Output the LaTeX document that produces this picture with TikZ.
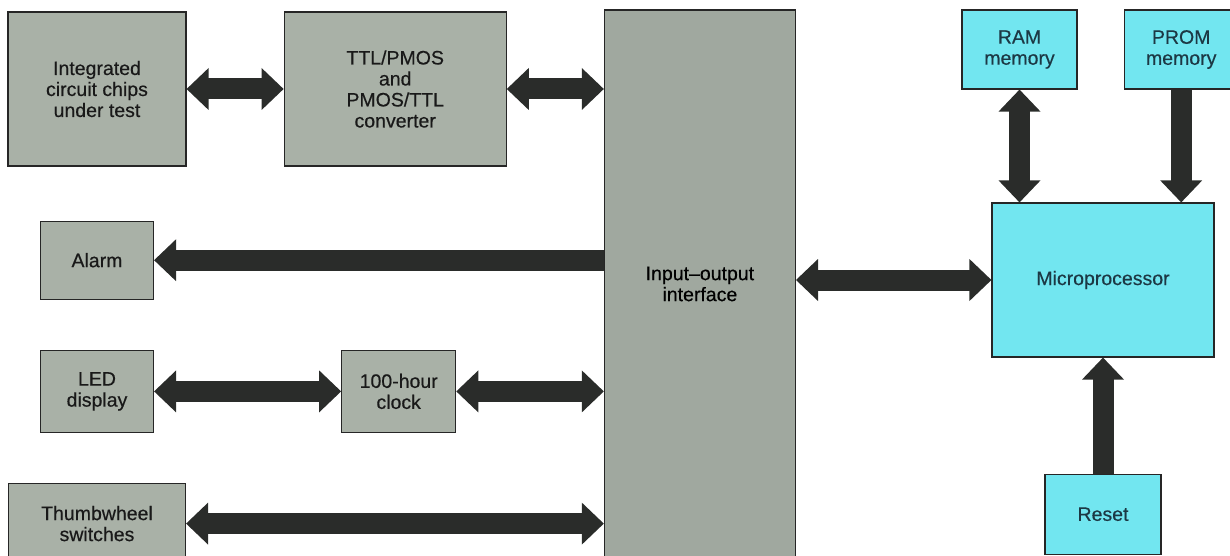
\documentclass[tikz,border=0pt]{standalone}
\usepackage{fontspec}
\setmainfont{Liberation Sans}
\newfontfamily\blockfont{Liberation Sans}[FakeBold=0.4,Ligatures=TeX]
\usepackage{xcolor}
\usetikzlibrary{arrows.meta,positioning}
\definecolor{boxgrey}{HTML}{A9B1A7}
\definecolor{iogrey}{HTML}{A0A89F}
\definecolor{boxcyan}{HTML}{72E6F0}
\definecolor{buscolor}{HTML}{2A2C2A}
\definecolor{cyantext}{HTML}{1C3844}

\begin{document}
\begin{tikzpicture}[
x=1pt,y=1pt,
block/.style={draw=black!85,line width=1.2pt,align=center,inner sep=0pt,font=\blockfont\fontsize{19.5}{21}\selectfont},
greyblock/.style={block,fill=boxgrey,text=black!90},
memblock/.style={block,fill=boxcyan,text=cyantext},
bustip/.tip={Triangle[length=22pt,width=42pt,line width=0pt]},
bus/.style={line width=21pt,line cap=rect,draw=buscolor,bustip-bustip},
onebus/.style={line width=21pt,line cap=rect,draw=buscolor,-bustip,shorten <=10.5pt}
]
\clip (0,0) rectangle (1230,555);
\node[greyblock,minimum width=178pt,minimum height=154pt] (chips) at (97,466) {Integrated\\circuit chips\\under test};
\node[greyblock,minimum width=222pt,minimum height=154pt,right=97pt of chips] (conv) {TTL/PMOS\\and\\PMOS/TTL\\converter};
\node[block,fill=iogrey,minimum width=191pt,minimum height=548pt,right=97pt of conv.north east,anchor=north west,yshift=2pt] (io) {Input--output\\interface};
\node[greyblock,minimum width=113pt,minimum height=78pt,below=54pt of chips] (alarm) {Alarm};
\node[greyblock,minimum width=113pt,minimum height=82pt,below=50pt of alarm] (led) {LED\\display};
\node[greyblock,minimum width=114pt,minimum height=82pt,right=187pt of led] (clock) {100-hour\\clock};
\node[greyblock,minimum width=177pt,minimum height=80pt,below=50pt of led] (thumb) {Thumbwheel\\switches};
\node[memblock,minimum width=115pt,minimum height=79pt] (ram) at (1019.5,505.5) {RAM\\memory};
\node[memblock,minimum width=114pt,minimum height=79pt,right=46pt of ram] (prom) {PROM\\memory};
\node[memblock,minimum width=222pt,minimum height=154pt] (micro) at (1103,275) {Microprocessor};
\node[memblock,minimum width=116pt,minimum height=80pt,below=116pt of micro] (reset) {Reset};
\draw[bus] (chips) -- (conv);
\draw[bus] (conv.east) -- (conv.east -| io.west);
\draw[onebus] (alarm.east -| io.west) -- (alarm.east);
\draw[bus] (led) -- (clock);
\draw[bus] (clock.east) -- (clock.east -| io.west);
\draw[bus] (thumb.east) -- (thumb.east -| io.west);
\draw[bus] (micro.west -| io.east) -- (micro.west);
\draw[bus] (ram.south) -- (ram.south |- micro.north);
\draw[onebus] (prom.south) -- (prom.south |- micro.north);
\draw[onebus] (reset) -- (micro);
\end{tikzpicture}
\end{document}
